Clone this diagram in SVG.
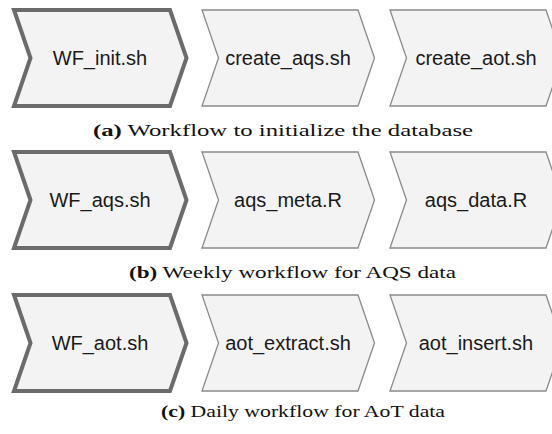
<svg xmlns="http://www.w3.org/2000/svg" width="552" height="434" viewBox="0 0 552 434">
  <defs>
    <!-- one chevron step: 156 wide body, 16-17 px point, 96 tall -->
    <path id="chev" d="M0,0 H156 L172.5,48 L156,96 H0 L16.5,48 Z"/>
  </defs>
  <style>
    .step { fill: #f3f3f3; stroke: #8a8a8a; stroke-width: 1.3; stroke-linejoin: miter; }
    .main { fill: #f3f3f3; stroke: #6b6b6b; stroke-width: 4; stroke-linejoin: miter; }
    .lbl { font-family: "Liberation Sans", Arial, sans-serif; font-size: 20px; fill: #1a1a1a; text-anchor: middle; }
    .cap { font-family: "Liberation Serif", "Times New Roman", serif; font-size: 16.5px; fill: #111; }
    .cap .tag { font-weight: bold; }
  </style>
  <rect width="552" height="434" fill="#ffffff"/>

  <!-- (a) initialise the database -->
  <g id="wf-init">
    <use href="#chev" class="main" x="14" y="10"/>
    <text class="lbl" x="100" y="65">WF_init.sh</text>
  </g>
  <g id="create-aqs">
    <use href="#chev" class="step" x="202" y="10"/>
    <text class="lbl" x="288" y="65">create_aqs.sh</text>
  </g>
  <g id="create-aot">
    <use href="#chev" class="step" x="390" y="10"/>
    <text class="lbl" x="476" y="65">create_aot.sh</text>
  </g>
  <text class="cap" x="93" y="136" textLength="380" lengthAdjust="spacingAndGlyphs"><tspan class="tag">(a)</tspan> Workflow to initialize the database</text>

  <!-- (b) weekly AQS workflow -->
  <g id="wf-aqs">
    <use href="#chev" class="main" x="14" y="152"/>
    <text class="lbl" x="100" y="207">WF_aqs.sh</text>
  </g>
  <g id="aqs-meta">
    <use href="#chev" class="step" x="202" y="152"/>
    <text class="lbl" x="288" y="207">aqs_meta.R</text>
  </g>
  <g id="aqs-data">
    <use href="#chev" class="step" x="390" y="152"/>
    <text class="lbl" x="476" y="207">aqs_data.R</text>
  </g>
  <text class="cap" x="129" y="278" textLength="327" lengthAdjust="spacingAndGlyphs"><tspan class="tag">(b)</tspan> Weekly workflow for AQS data</text>

  <!-- (c) daily AoT workflow -->
  <g id="wf-aot">
    <use href="#chev" class="main" x="14" y="295"/>
    <text class="lbl" x="100" y="350">WF_aot.sh</text>
  </g>
  <g id="aot-extract">
    <use href="#chev" class="step" x="202" y="295"/>
    <text class="lbl" x="288" y="350">aot_extract.sh</text>
  </g>
  <g id="aot-insert">
    <use href="#chev" class="step" x="390" y="295"/>
    <text class="lbl" x="476" y="350">aot_insert.sh</text>
  </g>
  <text class="cap" x="161" y="417" textLength="284" lengthAdjust="spacingAndGlyphs"><tspan class="tag">(c)</tspan> Daily workflow for AoT data</text>

  <!-- the steps touch edge to edge, so there are no separate connectors -->
  <g id="connectors"/>
</svg>
